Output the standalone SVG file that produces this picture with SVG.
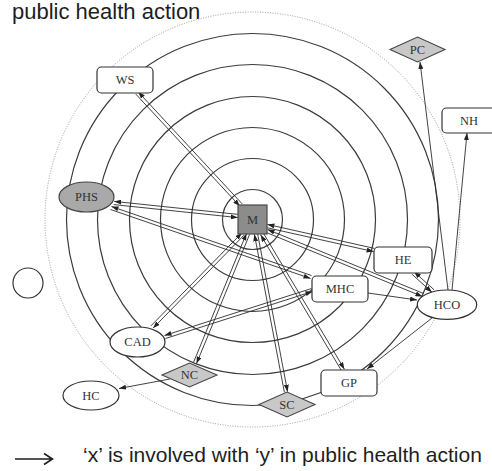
<svg xmlns="http://www.w3.org/2000/svg" width="492" height="471" viewBox="0 0 492 471">
<defs>
<marker id="ah" viewBox="0 0 7 5" refX="7" refY="2.5" markerWidth="7" markerHeight="5" markerUnits="userSpaceOnUse" orient="auto">
<path d="M0,0 L7,2.5 L0,5 z" fill="#222"/>
</marker>
<style>
.ring{fill:none;stroke:#3c3c3c;stroke-width:1.2}
.dot{fill:none;stroke:#9a9a9a;stroke-width:1;stroke-dasharray:1 1.5}
.c line{stroke:#2e2e2e;stroke-width:0.9;marker-end:url(#ah)}
.n{fill:#fff;stroke:#333;stroke-width:1.2}
.g{fill:#c8c8c8;stroke:#444;stroke-width:1.1}
.t{font-family:"Liberation Serif","Times New Roman",serif;font-size:12.5px;fill:#333;text-anchor:middle;dominant-baseline:central}
.s{font-family:"Liberation Sans",Arial,sans-serif;fill:#1e1e1e}
</style>
</defs>
<rect width="492" height="471" fill="#fff"/>
<text class="s" x="12" y="18.5" font-size="22">public health action</text>
<g id="rings">
<circle class="dot" cx="252.5" cy="219.5" r="207.5"/>
<circle class="ring" cx="252.5" cy="219.5" r="186"/>
<circle class="ring" cx="252.5" cy="219.5" r="155"/>
<circle class="ring" cx="252.5" cy="219.5" r="123"/>
<circle class="ring" cx="252.5" cy="219.5" r="92"/>
<circle class="ring" cx="252.5" cy="219.5" r="61"/>
<circle class="ring" cx="252.5" cy="219.5" r="30"/>
</g>
<g id="connectors" class="c">
<line x1="135.8" y1="94.1" x2="239.8" y2="206.1"/>
<line x1="242.2" y1="203.9" x2="138.2" y2="91.9"/>
<line x1="113.8" y1="204.6" x2="237.8" y2="217.6"/>
<line x1="238.2" y1="214.4" x2="114.2" y2="201.4"/>
<line x1="110.5" y1="209.5" x2="310.5" y2="278.5"/>
<line x1="311.5" y1="275.5" x2="111.5" y2="206.5"/>
<line x1="266.6" y1="227.6" x2="373.6" y2="251.6"/>
<line x1="374.4" y1="248.4" x2="267.4" y2="224.4"/>
<line x1="266.4" y1="232.5" x2="422.4" y2="296.5"/>
<line x1="423.6" y1="293.5" x2="267.6" y2="229.5"/>
<line x1="411.9" y1="274.2" x2="431.9" y2="292.2"/>
<line x1="434.1" y1="289.8" x2="414.1" y2="271.8"/>
<line x1="448" y1="290" x2="420" y2="62"/>
<line x1="452" y1="290" x2="467" y2="133"/>
<line x1="432" y1="318" x2="367" y2="369"/>
<line x1="368" y1="293" x2="417" y2="300"/>
<line x1="311.5" y1="288.5" x2="164.5" y2="335.5"/>
<line x1="165.5" y1="338.5" x2="312.5" y2="291.5"/>
<line x1="244.1" y1="235.1" x2="153.1" y2="328.1"/>
<line x1="150.9" y1="325.9" x2="241.9" y2="232.9"/>
<line x1="249.5" y1="234.6" x2="196.5" y2="363.6"/>
<line x1="193.5" y1="362.4" x2="246.5" y2="233.4"/>
<line x1="257.6" y1="233.7" x2="287.6" y2="391.7"/>
<line x1="284.4" y1="392.3" x2="254.4" y2="234.3"/>
<line x1="263.4" y1="233.2" x2="344.4" y2="369.2"/>
<line x1="341.6" y1="370.8" x2="260.6" y2="234.8"/>
<line x1="170" y1="379" x2="119" y2="388.5"/>
</g>
<g id="node-WS"><rect class="n" x="97" y="67" width="56" height="26" rx="4.5"/><text class="t" x="125" y="80">WS</text></g>
<g id="node-PC"><polygon class="g" points="390,49.5 417.5,37 445,49.5 417.5,62"/><text class="t" x="417.5" y="49.5">PC</text></g>
<g id="node-NH"><rect class="n" x="442" y="108" width="58" height="25" rx="4.5"/><text class="t" x="469" y="120.5">NH</text></g>
<g id="node-PHS"><ellipse cx="86.5" cy="197" rx="27.5" ry="15" fill="#a9a9a9" stroke="#444" stroke-width="1.2"/><text class="t" x="86.5" y="197">PHS</text></g>
<g id="node-M"><rect x="238" y="205" width="29" height="29" fill="#8c8c8c" stroke="#4a4a4a" stroke-width="1.2"/><text class="t" x="252.5" y="219.5">M</text></g>
<g id="node-HE"><rect class="n" x="374" y="247" width="58" height="26" rx="4.5"/><text class="t" x="403" y="260">HE</text></g>
<g id="node-MHC"><rect class="n" x="312" y="276" width="56" height="26" rx="4.5"/><text class="t" x="340" y="289">MHC</text></g>
<g id="node-HCO"><ellipse class="n" cx="447" cy="304.7" rx="29.7" ry="14.7"/><text class="t" x="447" y="304.7">HCO</text></g>
<g id="node-CAD"><ellipse class="n" cx="137.5" cy="342" rx="27.5" ry="15"/><text class="t" x="137.5" y="342">CAD</text></g>
<g id="node-NC"><polygon class="g" points="162,375 189.5,363 217,375 189.5,387"/><text class="t" x="189.5" y="375">NC</text></g>
<g id="node-HC"><ellipse class="n" cx="91" cy="395.5" rx="28" ry="14.5"/><text class="t" x="91" y="395.5">HC</text></g>
<g id="node-SC"><polygon class="g" points="259,404.5 287,392 315,404.5 287,417"/><text class="t" x="287" y="404.5">SC</text></g>
<g id="node-GP"><rect class="n" x="321" y="370" width="56" height="26" rx="4.5"/><text class="t" x="349" y="383">GP</text></g>
<g id="legend-circle"><circle class="n" cx="28" cy="283" r="15"/></g>
<g id="legend">
<path d="M15,459 H52 M44,453.5 L52.5,459 L44,464.5" fill="none" stroke="#1e1e1e" stroke-width="1.6"/>
<text class="s" x="83" y="461.7" font-size="21">‘x’ is involved with ‘y’ in public health action</text>
</g>
</svg>
